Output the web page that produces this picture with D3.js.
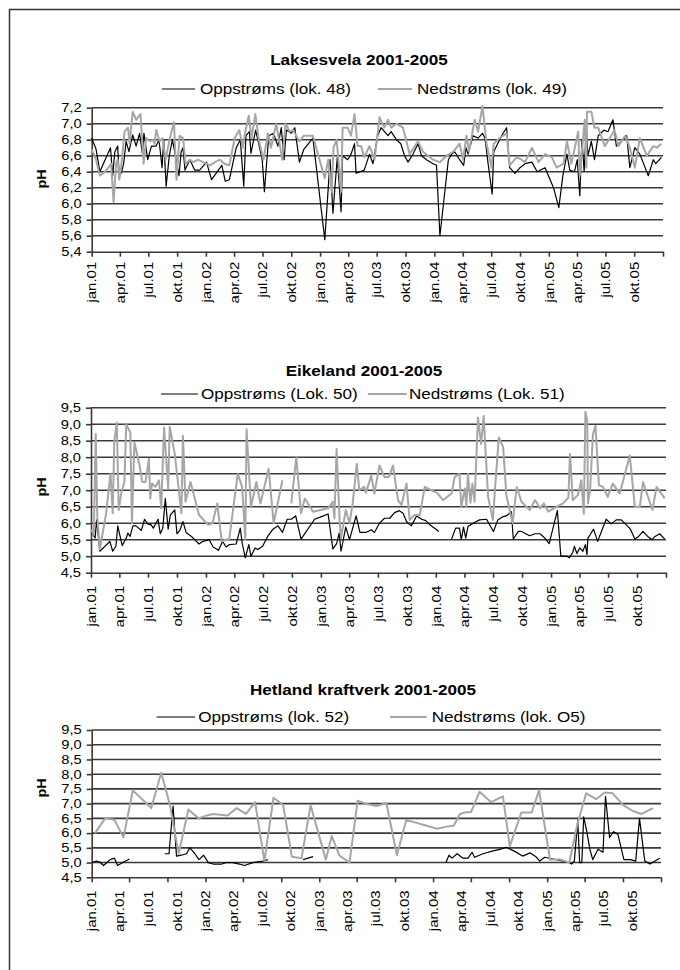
<!DOCTYPE html>
<html>
<head>
<meta charset='utf-8'>
<title>pH 2001-2005</title>
<script src='https://cdn.jsdelivr.net/npm/d3@7'></script>
<style>
  body { margin: 0; background: #fff; }
  text { font-family: 'Liberation Sans', Arial, sans-serif; fill: #000; }
</style>
</head>
<body>
<svg width='680' height='970'></svg>
<script>
// [måneder etter jan.01, pH]  (null = ingen måling)
const lak48 = [[0.00,6.82],[0.46,6.68],[0.88,6.40],[2.03,6.70],[2.28,6.35],[2.49,6.65],[2.80,6.72],[2.98,6.33],[3.19,6.40],[3.40,6.50],[3.68,6.78],[3.96,6.65],[4.38,6.86],[4.73,6.72],[5.08,6.88],[5.36,6.63],[5.53,6.88],[5.92,6.55],[6.34,6.72],[6.83,6.72],[7.11,6.80],[7.42,6.45],[7.60,6.80],[7.88,6.22],[8.16,6.60],[8.51,6.80],[9.21,6.35],[9.45,6.65],[9.63,6.70],[9.84,6.42],[10.33,6.55],[10.85,6.42],[11.38,6.42],[12.08,6.52],[12.61,6.30],[13.66,6.48],[14.11,6.28],[14.53,6.30],[15.23,6.70],[15.65,6.80],[16.04,6.22],[16.28,6.85],[16.63,6.90],[16.81,6.63],[17.26,6.92],[17.96,6.55],[18.21,6.15],[18.66,6.85],[19.15,6.88],[19.61,6.72],[19.96,6.95],[20.24,6.55],[20.48,6.92],[21.01,6.88],[21.36,6.95],[21.88,6.52],[22.30,6.68],[23.28,6.82],[24.51,5.55],[25.04,6.55],[25.32,5.88],[25.80,6.58],[26.26,5.90],[26.44,6.60],[26.96,6.55],[27.31,6.62],[27.66,6.75],[27.84,6.38],[28.71,6.42],[29.24,6.62],[29.59,6.50],[30.11,6.85],[30.46,6.95],[31.16,6.85],[31.51,6.90],[32.04,6.80],[32.49,6.75],[32.91,6.60],[33.26,6.52],[33.79,6.62],[34.31,6.75],[34.66,6.60],[35.19,6.55],[35.89,6.50],[36.24,6.48],[36.59,5.60],[37.46,6.55],[37.82,6.62],[38.17,6.65],[38.69,6.55],[39.11,6.48],[39.32,6.70],[39.57,6.62],[40.09,6.85],[40.62,6.82],[41.07,6.88],[41.32,6.82],[41.67,6.50],[42.09,6.12],[42.26,6.65],[43.07,6.85],[43.59,6.95],[43.94,6.45],[44.47,6.38],[44.99,6.45],[45.52,6.50],[46.22,6.52],[46.81,6.40],[47.62,6.45],[48.49,6.20],[49.02,5.95],[49.47,6.35],[49.89,6.62],[50.25,6.42],[50.77,6.40],[51.02,6.55],[51.30,6.10],[51.54,6.80],[51.75,6.40],[52.00,6.95],[52.17,6.60],[52.52,6.78],[52.87,6.55],[53.22,6.85],[53.82,6.92],[54.27,6.90],[54.80,7.05],[55.15,6.72],[55.67,6.78],[56.20,6.85],[56.55,6.45],[57.07,6.70],[57.60,6.62],[58.47,6.35],[59.00,6.55],[59.28,6.50],[59.87,6.58]]

const lak49 = [[0.00,6.68],[0.46,6.55],[0.88,6.35],[1.40,6.40],[1.93,6.48],[2.10,6.50],[2.38,6.02],[2.63,6.50],[2.80,6.55],[2.98,6.30],[3.15,6.45],[3.50,6.90],[3.85,6.95],[4.03,6.75],[4.38,7.15],[4.73,7.05],[5.15,7.12],[5.50,6.50],[5.78,6.82],[6.20,6.78],[6.48,6.80],[6.65,6.75],[6.83,6.92],[7.18,6.78],[7.46,6.82],[7.81,6.55],[8.23,6.82],[8.68,7.02],[8.93,6.30],[9.28,6.85],[9.63,6.82],[9.91,6.50],[10.33,6.55],[10.68,6.52],[11.20,6.55],[11.73,6.52],[12.43,6.48],[12.96,6.52],[13.48,6.55],[13.94,6.50],[14.53,6.48],[15.06,6.82],[15.58,6.92],[15.93,6.70],[16.18,6.88],[16.56,7.10],[16.88,6.82],[17.23,7.12],[17.61,6.80],[18.10,6.55],[18.56,6.88],[18.91,6.70],[19.43,7.00],[20.03,6.55],[20.41,7.00],[20.83,6.90],[21.18,6.92],[21.88,6.78],[22.30,6.85],[23.28,6.85],[23.98,6.55],[24.51,6.32],[24.86,6.55],[25.21,6.15],[25.39,6.70],[25.74,6.80],[26.26,6.15],[26.44,6.95],[26.96,6.95],[27.31,6.85],[27.66,7.12],[28.01,6.72],[28.36,6.72],[28.71,6.58],[29.24,6.72],[29.76,6.55],[30.29,7.08],[30.81,6.95],[31.16,7.05],[31.51,6.95],[32.04,7.00],[32.74,6.95],[33.44,6.62],[34.31,6.78],[34.84,6.65],[35.89,6.55],[36.59,6.52],[37.29,6.60],[37.99,6.65],[38.69,6.75],[39.04,6.55],[39.39,6.85],[39.67,6.65],[40.27,7.05],[40.62,6.90],[41.07,7.22],[41.49,6.75],[42.02,6.45],[42.26,6.75],[42.89,6.82],[43.59,6.88],[43.94,6.48],[44.64,6.58],[45.17,6.55],[45.52,6.52],[46.22,6.70],[46.92,6.52],[47.62,6.62],[48.32,6.58],[48.84,6.45],[49.54,6.50],[49.89,6.78],[50.42,6.50],[51.12,6.90],[51.30,6.35],[51.82,7.05],[52.00,6.45],[52.07,7.15],[52.52,7.15],[52.87,6.95],[53.22,6.95],[53.92,6.72],[54.45,6.82],[54.97,6.92],[55.32,6.72],[56.02,6.85],[56.55,6.70],[57.07,6.45],[57.60,6.82],[58.30,6.60],[59.00,6.72],[59.35,6.70],[59.87,6.75]]

const eik50 = [[0.00,5.75],[0.42,5.55],[0.59,6.10],[0.94,5.15],[1.98,5.45],[2.33,5.15],[2.68,5.30],[2.85,5.92],[3.30,5.32],[3.72,5.55],[3.90,5.70],[4.14,5.60],[4.42,5.92],[4.77,5.92],[5.29,5.78],[5.63,6.12],[5.98,5.98],[6.33,5.95],[6.57,5.85],[7.03,6.12],[7.27,5.68],[7.55,5.85],[7.79,6.75],[8.07,5.82],[8.31,6.25],[8.77,6.40],[9.01,5.68],[9.29,5.78],[9.63,6.05],[9.98,5.72],[10.50,5.60],[11.30,5.37],[11.72,5.45],[12.35,5.50],[12.77,5.28],[13.29,5.18],[13.74,5.45],[14.16,5.28],[14.50,5.35],[15.20,5.37],[15.62,5.85],[15.83,5.40],[16.17,4.95],[16.52,5.35],[16.77,5.00],[17.18,5.25],[17.46,5.20],[17.98,5.30],[18.50,5.60],[19.03,5.82],[19.55,5.92],[20.00,5.72],[20.49,6.12],[20.94,6.12],[21.39,6.22],[21.98,5.52],[23.37,6.12],[24.07,6.20],[24.77,6.28],[25.22,5.22],[25.63,5.38],[25.91,5.70],[26.16,5.15],[26.68,5.88],[27.03,5.50],[27.37,5.85],[27.72,6.22],[28.14,5.72],[28.77,5.72],[29.29,5.80],[29.64,5.72],[30.17,6.00],[30.70,6.15],[31.22,6.15],[31.74,6.32],[32.19,6.38],[32.61,6.30],[32.96,6.05],[33.48,5.92],[34.00,6.22],[34.52,6.12],[34.97,6.08],[35.39,5.95],[35.91,5.85],[36.33,5.75],[37.00,null],[37.63,5.52],[38.09,5.85],[38.50,5.85],[38.71,5.50],[38.92,5.88],[39.13,5.55],[39.37,5.90],[39.90,6.00],[40.59,6.10],[41.29,6.12],[42.05,5.75],[42.50,6.10],[43.03,6.20],[43.37,6.22],[43.90,6.35],[44.07,5.52],[44.59,5.75],[44.94,5.75],[45.81,5.62],[46.33,5.68],[46.85,5.68],[47.37,5.55],[47.83,5.38],[48.66,6.38],[49.01,5.00],[49.64,5.00],[49.91,4.95],[50.33,5.12],[50.50,5.30],[50.75,5.08],[51.03,5.25],[51.37,5.15],[51.65,5.35],[51.79,5.05],[51.90,5.55],[52.14,5.65],[52.49,5.82],[52.94,5.45],[53.29,5.75],[53.81,6.12],[54.33,5.98],[54.85,6.10],[55.37,6.10],[55.90,5.95],[56.31,5.82],[56.77,5.52],[57.11,5.58],[57.64,5.75],[58.16,5.58],[58.57,5.50],[58.85,5.60],[59.37,5.68],[59.90,5.52]]

const eik51 = [[0.00,5.80],[0.31,5.65],[0.49,8.70],[0.66,6.20],[0.94,5.20],[1.57,6.30],[2.09,7.50],[2.33,6.30],[2.50,8.50],[2.75,9.05],[2.96,6.40],[3.20,6.90],[3.55,7.25],[3.72,9.00],[4.17,8.75],[4.35,6.00],[4.59,8.45],[5.11,7.75],[5.39,7.25],[5.74,7.25],[6.09,7.95],[6.23,6.75],[6.43,7.20],[6.78,7.10],[7.13,7.30],[7.37,6.45],[7.65,8.90],[8.07,7.05],[8.24,8.92],[8.77,8.10],[9.46,6.30],[9.63,8.65],[9.91,6.65],[10.40,7.25],[11.30,6.25],[12.24,5.95],[12.70,6.00],[13.18,6.60],[13.63,5.45],[14.16,5.50],[14.50,5.52],[15.37,7.50],[15.83,7.10],[16.17,5.50],[16.31,8.85],[16.77,6.50],[17.29,7.25],[17.74,6.60],[18.61,7.65],[19.10,6.00],[20.00,7.30],[20.50,null],[20.94,6.60],[21.46,8.00],[21.98,6.30],[22.33,6.75],[23.20,6.35],[24.77,6.45],[25.22,6.65],[25.39,6.15],[25.63,8.25],[25.98,6.00],[26.16,5.55],[26.68,6.40],[27.03,6.00],[27.37,6.60],[27.79,7.80],[28.07,7.00],[28.59,7.10],[28.77,6.92],[29.29,7.45],[29.64,6.90],[30.17,7.75],[30.70,7.40],[31.13,7.40],[31.55,7.75],[32.07,6.70],[32.42,6.55],[32.96,7.20],[33.29,6.10],[33.81,6.25],[34.33,6.25],[34.85,7.10],[35.55,7.00],[36.14,6.92],[36.77,6.70],[37.63,6.90],[37.98,7.40],[38.50,7.50],[38.71,6.50],[39.03,7.05],[39.20,6.50],[39.37,7.50],[39.65,6.62],[39.82,7.20],[40.07,6.65],[40.42,9.20],[40.77,8.40],[41.01,9.25],[41.46,6.80],[41.98,6.10],[42.61,8.60],[43.03,8.30],[43.37,6.85],[44.00,6.00],[44.42,7.10],[44.94,6.65],[45.81,6.40],[46.33,6.70],[46.85,6.45],[47.27,6.60],[47.72,6.35],[48.59,6.50],[49.22,6.60],[49.81,6.78],[50.05,8.10],[50.33,6.70],[50.85,6.85],[51.20,7.30],[51.48,6.28],[51.65,9.38],[51.83,9.10],[51.90,6.60],[52.14,7.00],[52.42,8.70],[52.70,8.95],[53.04,7.15],[53.46,7.10],[53.98,6.80],[54.50,7.20],[55.20,6.90],[56.24,8.05],[56.77,6.50],[57.29,6.50],[57.64,7.25],[58.61,6.40],[59.03,7.10],[59.90,6.75]]

const het52 = [[0.00,5.00],[0.53,5.05],[0.88,5.02],[1.23,4.90],[1.93,5.10],[2.46,5.15],[2.81,4.90],[3.34,5.00],[4.04,5.12],[5.00,null],[7.73,5.30],[8.18,5.30],[8.61,6.92],[8.96,5.22],[9.48,5.25],[10.01,5.30],[10.36,5.50],[10.89,5.30],[11.35,5.10],[11.84,5.25],[12.29,5.00],[12.82,4.95],[13.70,4.95],[14.23,5.00],[14.93,5.00],[15.63,4.95],[16.16,4.90],[17.04,5.00],[18.09,5.05],[18.62,5.10],[20.00,null],[22.30,5.10],[23.36,5.20],[30.00,null],[37.33,5.00],[37.68,5.25],[38.03,5.15],[38.56,5.30],[39.16,5.15],[39.69,5.15],[40.15,5.35],[40.39,5.18],[41.27,5.30],[42.15,5.38],[43.03,5.45],[43.73,5.52],[44.61,5.38],[45.42,5.22],[46.19,5.33],[46.89,5.18],[47.24,5.05],[47.77,5.18],[48.64,5.12],[50.40,5.00],[50.65,4.95],[50.93,5.05],[51.28,6.45],[51.45,5.00],[51.70,5.00],[51.91,6.55],[52.23,6.05],[52.58,5.45],[52.86,5.10],[53.39,5.45],[53.92,5.35],[54.20,7.25],[54.62,5.85],[55.04,6.05],[55.50,5.95],[56.09,5.10],[56.80,5.10],[57.36,5.05],[57.78,6.50],[58.31,5.05],[58.84,4.95],[59.90,5.15]]

const hetO5 = [[0.35,6.00],[1.40,6.50],[2.46,6.45],[3.41,5.85],[4.39,7.45],[6.32,6.85],[7.38,8.05],[8.25,6.95],[9.20,5.30],[10.19,6.80],[11.31,6.50],[12.12,6.60],[12.82,6.65],[13.52,6.62],[14.40,6.60],[15.35,6.85],[16.33,6.65],[17.28,7.05],[18.26,5.05],[19.21,7.20],[20.20,6.95],[21.14,5.20],[22.13,5.15],[23.11,6.95],[24.69,5.10],[25.29,5.90],[26.17,5.25],[27.23,5.00],[28.11,7.10],[28.98,7.00],[30.10,6.92],[31.09,7.02],[32.21,5.25],[33.19,6.45],[36.42,6.15],[37.41,6.22],[38.21,6.25],[38.88,6.65],[39.34,6.70],[40.04,6.72],[40.92,7.40],[42.15,7.05],[43.38,7.25],[44.08,5.55],[45.31,6.70],[46.36,6.70],[47.17,7.45],[48.29,5.10],[49.35,5.10],[50.40,5.00],[51.28,6.35],[52.16,7.35],[53.21,7.15],[54.09,7.38],[54.97,7.35],[56.02,6.95],[57.08,6.75],[57.96,6.65],[59.19,6.85]]

const titles = ['Laksesvela 2001-2005', 'Eikeland 2001-2005', 'Hetland kraftverk 2001-2005']
const upLabels = ['Oppstrøms (lok. 48)', 'Oppstrøms (Lok. 50)', 'Oppstrøms (lok. 52)']
const downLabels = ['Nedstrøms (lok. 49)', 'Nedstrøms (Lok. 51)', 'Nedstrøms (lok. O5)']
const yDomains = [[5.4, 7.2], [4.5, 9.5], [4.5, 9.5]]
const ySteps = [0.2, 0.5, 0.5]
const monthNames = ['jan','feb','mar','apr','mai','jun','jul','aug','sep','okt','nov','des']

const svg = d3.select('svg')

// ramme
svg.append('rect')
    .attr('x', 9.5).attr('y', 9.5)
    .attr('width', 700).attr('height', 1000)
    .attr('fill', 'none').attr('stroke', '#333').attr('stroke-width', 1.5)

const start = new Date(2001, 0, 1)
const end = new Date(2006, 0, 1)
const toDate = m => d3.timeDay.offset(d3.timeMonth.offset(start, Math.floor(m)), Math.round((m % 1) * 30))
const fmtDate = d => monthNames[d.getMonth()] + '.' + d3.timeFormat('%y')(d)
const fmtNum = d3.formatLocale({ decimal: ',', thousands: ' ', grouping: [3], currency: ['', ''] }).format('.1f')

// tekst i originalen er bredere enn Arial
function widen(sel, k) {
    sel.each(function () {
        const w = this.getComputedTextLength()
        d3.select(this).attr('textLength', w * k).attr('lengthAdjust', 'spacingAndGlyphs')
    })
}

const layouts = [
    { left: 91.7, right: 663, top: 107.7, bottom: 251.7, titleX: 359, titleY: 65, legY: 89, phY: 179, labOff: 10,
      leg: [[162, 195, 200], [378, 412, 417]], tickEvery: 3 },
    { left: 91, right: 666, top: 407.7, bottom: 572.7, titleX: 364, titleY: 376, legY: 394, phY: 487, labOff: 13,
      leg: [[161, 198, 201], [368, 406.7, 409]], tickEvery: 3 },
    { left: 91.7, right: 661, top: 730, bottom: 877.3, titleX: 363, titleY: 695, legY: 717, phY: 788, labOff: 13,
      leg: [[156.7, 195, 198.3], [390, 426.7, 431.7]], tickEvery: 4 }
]
const seriesUp = [lak48, eik50, het52]
const seriesDown = [lak49, eik51, hetO5]

layouts.forEach((c, i) => {
    const g = svg.append('g')
    const x = d3.scaleTime().domain([start, end]).range([c.left, c.right])
    const y = d3.scaleLinear().domain(yDomains[i]).range([c.bottom, c.top])
    const yTicks = d3.range(yDomains[i][0], yDomains[i][1] + ySteps[i] / 2, ySteps[i])

    // rutenett
    g.append('g').selectAll('line')
        .data(yTicks.slice(1))
        .enter().append('line')
        .attr('x1', c.left).attr('x2', c.right)
        .attr('y1', d => y(d)).attr('y2', d => y(d))
        .attr('stroke', '#3a3a3a').attr('stroke-width', 1.6)

    // y-akse
    const yAxis = g.append('g')
        .attr('transform', `translate(${c.left},0)`)
        .call(d3.axisLeft(y).tickValues(yTicks).tickSize(5).tickSizeOuter(0).tickPadding(5).tickFormat(fmtNum))
    yAxis.selectAll('path,line').attr('stroke', '#3a3a3a').attr('stroke-width', 1.6)
    yAxis.selectAll('text').style('font-size', '12px').attr('fill', '#000')
    widen(yAxis.selectAll('text'), 1.22)

    // x-akse: streker
    const tickDates = d3.timeMonth.range(start, d3.timeMonth.offset(end, 1), c.tickEvery)
    const xAxis = g.append('g')
        .attr('transform', `translate(0,${c.bottom})`)
        .call(d3.axisBottom(x).tickValues(tickDates).tickSize(5).tickSizeOuter(0).tickFormat(''))
    xAxis.selectAll('path,line').attr('stroke', '#3a3a3a').attr('stroke-width', 1.6)

    // x-akse: etiketter hvert kvartal
    const labelDates = d3.timeMonth.range(start, end, 3)
    const xLab = g.append('g')
        .attr('transform', `translate(0,${c.bottom})`)
        .call(d3.axisBottom(x).tickValues(labelDates).tickSize(0).tickFormat(fmtDate))
    xLab.select('.domain').remove()
    xLab.selectAll('text')
        .attr('transform', 'rotate(-90)')
        .attr('x', -c.labOff).attr('y', 0).attr('dy', '0.35em')
        .style('text-anchor', 'end').style('font-size', '12px').attr('fill', '#000')
    widen(xLab.selectAll('text'), 1.25)

    // y-tittel
    const ph = g.append('text')
        .attr('transform', `translate(42,${c.phY}) rotate(-90)`)
        .attr('text-anchor', 'middle').attr('dy', '0.35em')
        .style('font-size', '12px').style('font-weight', 'bold')
        .text('pH')
    widen(ph, 1.2)

    // tittel
    const t = g.append('text')
        .attr('x', c.titleX).attr('y', c.titleY)
        .attr('text-anchor', 'middle')
        .style('font-size', '14px').style('font-weight', 'bold')
        .text(titles[i])
    widen(t, 1.22)

    // tegnforklaring
    const legData = [
        { label: upLabels[i], color: '#000', w: 1.2 },
        { label: downLabels[i], color: '#a6a6a6', w: 2 }
    ]
    legData.forEach((d, j) => {
        const p = c.leg[j]
        g.append('line')
            .attr('x1', p[0]).attr('x2', p[1]).attr('y1', c.legY).attr('y2', c.legY)
            .attr('stroke', d.color).attr('stroke-width', d.w)
        const lt = g.append('text')
            .attr('x', p[2]).attr('y', c.legY).attr('dy', '0.35em')
            .style('font-size', '14px')
            .text(d.label)
        widen(lt, 1.22)
    })

    // linjer
    const line = d3.line()
        .defined(d => d[1] != null)
        .x(d => x(toDate(d[0])))
        .y(d => y(d[1]))

    g.append('path')
        .datum(seriesUp[i])
        .attr('fill', 'none').attr('stroke', '#000').attr('stroke-width', 1.2)
        .attr('stroke-linejoin', 'round')
        .attr('d', line)

    g.append('path')
        .datum(seriesDown[i])
        .attr('fill', 'none').attr('stroke', '#a6a6a6').attr('stroke-width', 2)
        .attr('stroke-linejoin', 'round')
        .attr('d', line)
})
</script>
</body>
</html>
